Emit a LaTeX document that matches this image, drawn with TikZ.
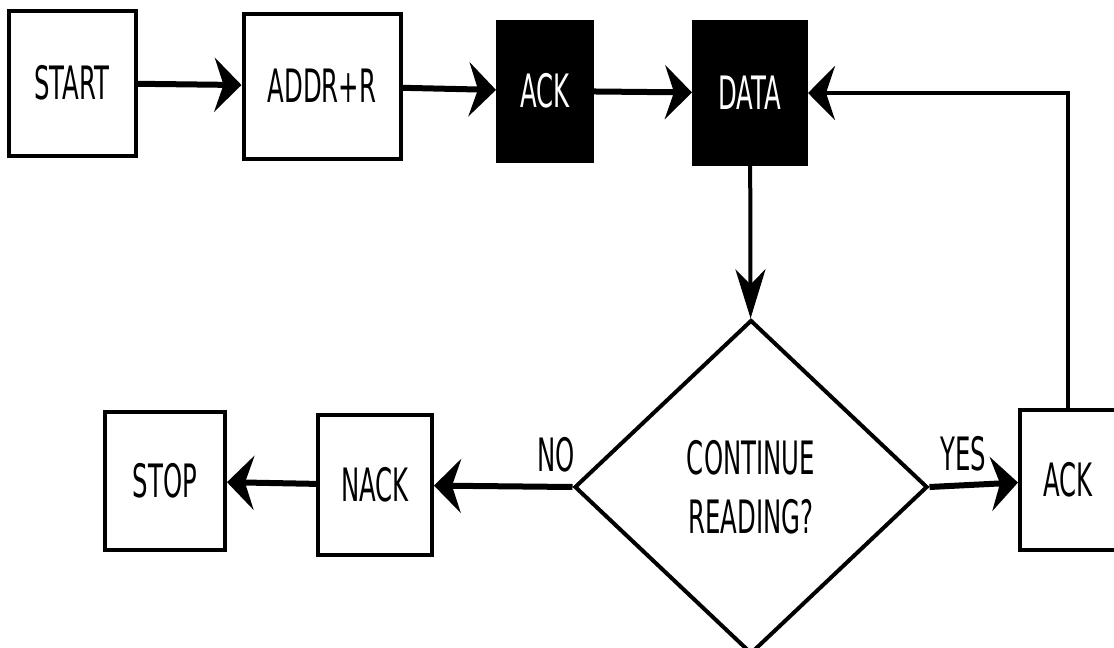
\documentclass[tikz,border=0pt]{standalone}
\usepackage{fontspec}
\setmainfont{DejaVu Sans}[FakeStretch=0.53]
\usepackage{tikz}
\usetikzlibrary{shapes}
\usetikzlibrary{shapes.geometric}
\usetikzlibrary{arrows.meta}
\usetikzlibrary{positioning}

\tikzset{
	stepbox/.style={draw, line width=4pt, fill=white, inner sep=0pt},
	darkbox/.style={draw, line width=1pt, fill=black, text=white, inner sep=0pt},
	decision/.style={diamond, draw, line width=4pt, align=center,
			minimum width=353pt, minimum height=334pt, inner sep=0pt},
	harr/.style={line width=6pt, -{Stealth[length=27pt, width=54pt, inset=9pt]}},
	varr/.style={line width=4pt, -{Stealth[length=49pt, width=30pt, inset=15pt]}}
}

\begin{document}
\begin{tikzpicture}[x=1pt, y=-1pt, font=\fontsize{46}{59}\selectfont]
				\useasboundingbox (0, 0) rectangle (1114, 648);

				% upper row
				\node[stepbox, minimum width=127pt, minimum height=145pt] (start) at (72, 83) {START};
				\node[stepbox, minimum width=157pt, minimum height=145pt] (addr) at (322, 86) {ADDR+R};
				\node[darkbox, minimum width=97pt, minimum height=142pt] (ack) at (545, 91) {ACK};
				\node[darkbox, minimum width=115pt, minimum height=145pt] (data) at (750, 93) {DATA};

				% decision and lower row
				\node[decision] (cont) at (751, 487) {CONTINUE\\READING?};
				\node[stepbox, minimum width=114pt, minimum height=140pt] (nack) at (375, 485) {NACK};
				\node[stepbox, minimum width=120pt, minimum height=138pt] (stop) at (165, 481) {STOP};
				\node[stepbox, minimum width=96pt, minimum height=140pt] (ackr) at (1068, 480) {ACK};

				\draw[harr] (start) -- (addr);
				\draw[harr] (addr) -- (ack);
				\draw[harr] (ack) -- (data);
				\draw[varr] (data) -- (cont);
				\draw[harr] (cont.west) -- (nack) node[pos=0.12, above=8pt] {NO};
				\draw[harr] (nack) -- (stop);
				\draw[harr] (cont.east) -- (ackr) node[pos=0.38, above=8pt] {YES};
				\draw[line width=4pt, -{Stealth[length=27pt, width=54pt, inset=9pt]}] (ackr.north) |- (data.east);

			\end{tikzpicture}
\end{document}
